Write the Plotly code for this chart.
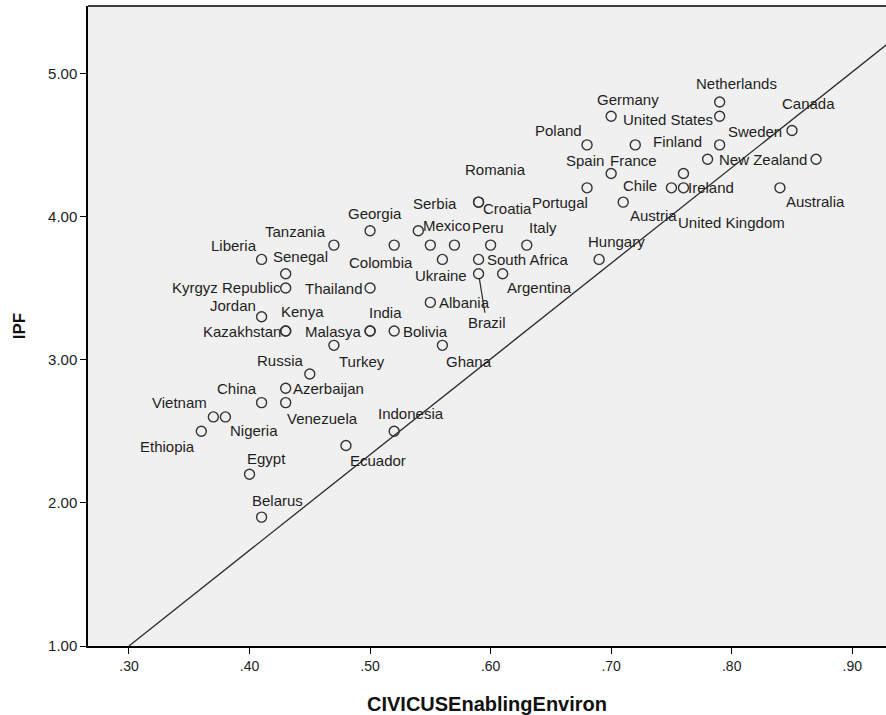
import plotly.graph_objects as go

# ---- data ----
countries = ["Netherlands", "United States", "Germany", "Canada", "Poland", "France", "Sweden",
             "Finland", "New Zealand", "Spain", "Chile", "Portugal", "United Kingdom", "Ireland",
             "Australia", "Austria", "Croatia", "Romania", "Georgia", "Serbia", "Tanzania",
             "Colombia", "Mexico", "", "Peru", "Italy", "Liberia", "Ukraine", "South Africa",
             "Hungary", "Senegal", "Brazil", "Argentina", "Kyrgyz Republic", "Thailand", "Albania",
             "Jordan", "Kenya", "Kazakhstan", "India", "Malasya", "Bolivia", "Turkey", "Ghana",
             "Russia", "Azerbaijan", "China", "Venezuela", "Vietnam", "Nigeria", "Ethiopia",
             "Indonesia", "Ecuador", "Egypt", "Belarus"]
civicus = [0.79, 0.79, 0.70, 0.85, 0.68, 0.72, 0.79,
           0.78, 0.87, 0.70, 0.76, 0.68, 0.75, 0.76,
           0.84, 0.71, 0.59, 0.59, 0.50, 0.54, 0.47,
           0.52, 0.55, 0.57, 0.60, 0.63, 0.41, 0.56, 0.59,
           0.69, 0.43, 0.59, 0.61, 0.43, 0.50, 0.55,
           0.41, 0.43, 0.43, 0.50, 0.50, 0.52, 0.47, 0.56,
           0.45, 0.43, 0.41, 0.43, 0.37, 0.38, 0.36,
           0.52, 0.48, 0.40, 0.41]
ipf = [4.8, 4.7, 4.7, 4.6, 4.5, 4.5, 4.5,
       4.4, 4.4, 4.3, 4.3, 4.2, 4.2, 4.2,
       4.2, 4.1, 4.1, 4.1, 3.9, 3.9, 3.8,
       3.8, 3.8, 3.8, 3.8, 3.8, 3.7, 3.7, 3.7,
       3.7, 3.6, 3.6, 3.6, 3.5, 3.5, 3.4,
       3.3, 3.2, 3.2, 3.2, 3.2, 3.2, 3.1, 3.1,
       2.9, 2.8, 2.7, 2.7, 2.6, 2.6, 2.5,
       2.5, 2.4, 2.2, 1.9]

# reference line
line_x = [0.30, 0.93]
line_y = [1.00, 5.21]

x_tickvals = [0.30, 0.40, 0.50, 0.60, 0.70, 0.80, 0.90]
x_ticktext = [".30", ".40", ".50", ".60", ".70", ".80", ".90"]
y_tickvals = [1, 2, 3, 4, 5]
y_ticktext = ["1.00", "2.00", "3.00", "4.00", "5.00"]

# ---- label placement (pixel offsets: right, down) ----
label_offsets = {
    "Netherlands": (17, -18), "United States": (-52, 3), "Germany": (17, -17),
    "Canada": (17, -27), "Poland": (-29, -14), "France": (-2, 16), "Sweden": (35, -13),
    "Finland": (-30, -18), "New Zealand": (-53, 0), "Spain": (-26, -13), "Chile": (-43, 12),
    "Portugal": (-27, 15), "United Kingdom": (60, 35), "Ireland": (28, 0),
    "Australia": (36, 14), "Austria": (30, 13), "Croatia": (29, 6), "Romania": (17, -33),
    "Georgia": (5, -17), "Serbia": (17, -27), "Tanzania": (-38, -14), "Colombia": (-13, 17),
    "Mexico": (17, -20), "Peru": (-3, -18), "Italy": (16, -18), "Liberia": (-28, -14),
    "Ukraine": (-1, 16), "South Africa": (49, 0), "Hungary": (17, -18), "Senegal": (15, -17),
    "Brazil": (8, 49), "Argentina": (37, 14), "Kyrgyz Republic": (-59, -1),
    "Thailand": (-36, 0), "Albania": (34, 0), "Jordan": (-29, -11), "Kenya": (17, -20),
    "Kazakhstan": (-44, 0), "India": (15, -19), "Malasya": (-37, 0), "Bolivia": (31, 0),
    "Turkey": (28, 16), "Ghana": (27, 16), "Russia": (-29, -13), "Azerbaijan": (43, 0),
    "China": (-25, -14), "Venezuela": (37, 16), "Vietnam": (-34, -14), "Nigeria": (29, 14),
    "Ethiopia": (-34, 15), "Indonesia": (17, -18), "Ecuador": (32, 15), "Egypt": (17, -16),
    "Belarus": (16, -17),
}
leader_labels = {"Brazil"}

FONT = "Liberation Sans, Arial, sans-serif"
LABEL_FONT = dict(family=FONT, size=15, color="#1e1e1e")

fig = go.Figure()

fig.add_trace(go.Scatter(
    x=line_x, y=line_y, mode="lines",
    line=dict(color="#2a2a2a", width=1.3),
    hoverinfo="skip", showlegend=False,
))

fig.add_trace(go.Scatter(
    x=civicus, y=ipf, mode="markers", text=countries,
    marker=dict(symbol="circle-open", size=10, color="#333333", line=dict(width=1.4, color="#333333")),
    showlegend=False,
))

annotations = []
for name, xv, yv in zip(countries, civicus, ipf):
    if not name or name not in label_offsets:
        continue
    dx, dy = label_offsets[name]
    if name in leader_labels:
        annotations.append(dict(
            x=xv, y=yv, xref="x", yref="y", text=name, font=LABEL_FONT,
            showarrow=True, arrowhead=0, arrowwidth=1.2, arrowcolor="#2a2a2a",
            ax=dx, ay=dy, standoff=5, startstandoff=0,
        ))
    else:
        annotations.append(dict(
            x=xv, y=yv, xref="x", yref="y", text=name, font=LABEL_FONT,
            showarrow=False, xshift=dx, yshift=-dy,
            xanchor="center", yanchor="middle",
        ))

fig.update_layout(
    width=886, height=715,
    margin=dict(l=88, r=0, t=6, b=69, autoexpand=False),
    paper_bgcolor="white",
    plot_bgcolor="#f0f0f0",
    annotations=annotations,
    xaxis=dict(
        range=[0.266, 0.928], tickvals=x_tickvals, ticktext=x_ticktext,
        showgrid=False, zeroline=False, automargin=False,
        showline=True, linecolor="black", linewidth=1.5,
        ticks="outside", ticklen=6, tickwidth=1.3, tickcolor="black",
        tickfont=dict(family=FONT, size=14, color="#222222"),
        title=dict(text="<b>CIVICUSEnablingEnviron</b>", standoff=24,
                   font=dict(family=FONT, size=20, color="#111111")),
    ),
    yaxis=dict(
        range=[1.0, 5.47], tickvals=y_tickvals, ticktext=y_ticktext,
        showgrid=False, zeroline=False, automargin=False,
        showline=True, linecolor="black", linewidth=1.5,
        ticks="outside", ticklen=6, tickwidth=1.3, tickcolor="black",
        tickfont=dict(family=FONT, size=15, color="#222222"),
        title=dict(text="<b>IPF</b>", standoff=18,
                   font=dict(family=FONT, size=17, color="#111111")),
    ),
    shapes=[dict(type="line", xref="paper", yref="paper", x0=0, x1=1, y0=1, y1=1,
                 line=dict(color="black", width=1.5))],
)

fig.write_html(
    "out.html",
    config={"displayModeBar": False},
    post_script="document.body.style.margin='0';document.body.style.overflow='hidden';",
)
